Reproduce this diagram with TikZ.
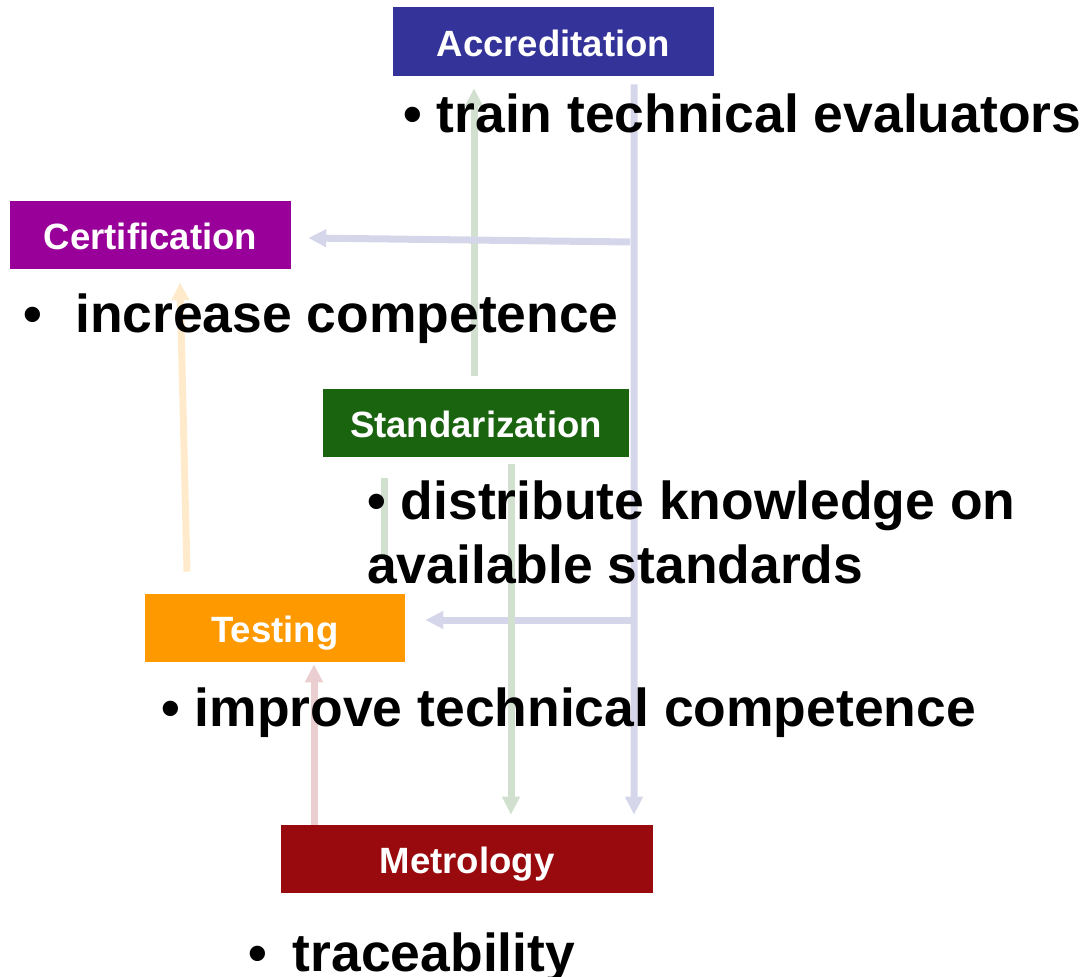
\documentclass[tikz,border=0pt]{standalone}
\usepackage{fontspec}
\setmainfont{Liberation Sans}
\usetikzlibrary{arrows.meta,calc,positioning}
\definecolor{macc}{HTML}{333399}
\definecolor{mcert}{HTML}{990099}
\definecolor{mstd}{HTML}{1A6410}
\definecolor{mtest}{HTML}{FF9900}
\definecolor{mmet}{HTML}{990A0E}
\tikzstyle{l1}=[line width=0.175cm]
\tikzstyle{box}=[rectangle, inner sep=0pt, text=white, text height=21pt, text depth=0pt, font=\fontsize{26}{31}\selectfont\bfseries]
\tikzstyle{item}=[anchor=base west, inner sep=0pt, align=left, font=\fontsize{38}{45.5}\selectfont\bfseries]
\tikzstyle{link}=[l1]
\tikzstyle{flow}=[link, -{Triangle[length=0.45cm, width=0.425cm]}]

\begin{document}
\begin{tikzpicture}[x=0.025cm, y=-0.025cm]

    \useasboundingbox (0,0) rectangle (1091,977);

    % the five fields
    \node[box, fill=macc, minimum width=8.025cm, minimum height=1.725cm] (acc) at (553.5,41.5) {Accreditation};
    \node[box, fill=mcert, minimum width=7.025cm, minimum height=1.7cm] (cert) at (150.5,235) {Certification};
    \node[box, fill=mstd, minimum width=7.65cm, minimum height=1.7cm] (std) at (476,423) {Standarization};
    \node[box, fill=mtest, minimum width=6.5cm, minimum height=1.7cm] (test) at (275,628) {Testing};
    \node[box, fill=mmet, minimum width=9.3cm, minimum height=1.7cm] (met) at (467,859) {Metrology};

    % free ends on the rails
    \coordinate (r1) at (630,242);
    \coordinate (r2) at (634,620);
    \coordinate (g1) at (384,478);
    \coordinate (g2) at (384,556);

    \draw[flow, mstd!20!white] ($(std.north)+(-2,-13)$) -- ($(acc.south)+(-79.5,12)$);
    \draw[flow, macc!20!white] ($(acc.south)+(80.5,8)$) -- ($(met.north)+(167,-10)$);
    \draw[flow, macc!20!white] (r1) -- ($(cert.east)+(17,3)$);
    \draw[flow, macc!20!white] (r2) -- ($(test.east)+(20,-8)$);
    \draw[flow, mstd!20!white] ($(std.south)+(35,7)$) -- ($(met.north)+(44,-10)$);
    \draw[link, mstd!20!white] (g1) -- (g2);
    \draw[flow, mtest!20!white] ($(test.north)+(-88,-22)$) -- ($(cert.south)+(29.5,13)$);
    \draw[flow, mmet!20!white] ($(met.north)+(-153,0)$) -- ($(test.south)+(39,2)$);

    % what each one does
    \node[item] (tacc) at (403,133) {• train technical evaluators};
    \node[item] (tcert) at (23,333) {•\hspace{0.83cm}increase competence};
    \node[item] (tstd) at (367,583) {• distribute knowledge on\\available standards};
    \node[item] (ttest) at (161,726) {• improve technical competence};
    \node[item] (tmet) at (248,971) {•\hspace{0.65cm}traceability};

\end{tikzpicture}
\end{document}
